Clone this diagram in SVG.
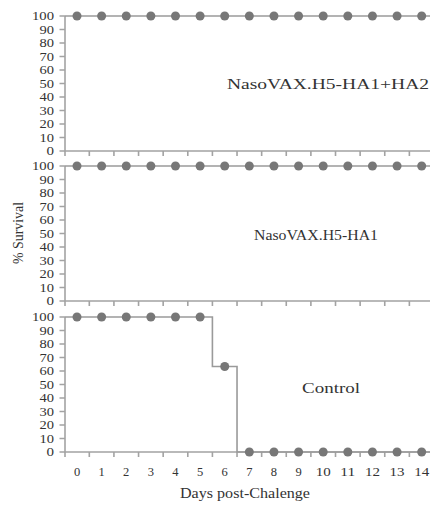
<svg xmlns="http://www.w3.org/2000/svg" width="430" height="507" viewBox="0 0 430 507">
<style>
.ax{stroke:#a3a3a3;stroke-width:1.6;fill:none}
.dl{stroke:#9a9a9a;stroke-width:1.6;fill:none}
.pt{fill:#777}
text{font-family:"Liberation Serif","Times New Roman",serif;fill:#333}
.yt{font-size:12.5px;text-anchor:end}
.xt{font-size:12.5px;text-anchor:middle}
.lb{font-size:15px;text-anchor:middle}
</style>
<defs>
<g id="frame">
<path class="ax" d="M65,0V135H430"/>
<path class="ax" d="M59.5,0H65M59.5,13.5H65M59.5,27H65M59.5,40.5H65M59.5,54H65M59.5,67.5H65M59.5,81H65M59.5,94.5H65M59.5,108H65M59.5,121.5H65M59.5,135H65"/>
<path class="ax" d="M65,135v5M89.31,135v5M113.93,135v5M138.55,135v5M163.17,135v5M187.79,135v5M212.41,135v5M237.03,135v5M261.65,135v5M286.27,135v5M310.89,135v5M335.51,135v5M360.13,135v5M384.75,135v5M409.37,135v5"/>
<text class="yt" x="54" y="4.3" textLength="22" lengthAdjust="spacingAndGlyphs">100</text>
<text class="yt" x="54" y="17.8" textLength="14.5" lengthAdjust="spacingAndGlyphs">90</text>
<text class="yt" x="54" y="31.3" textLength="14.5" lengthAdjust="spacingAndGlyphs">80</text>
<text class="yt" x="54" y="44.8" textLength="14.5" lengthAdjust="spacingAndGlyphs">70</text>
<text class="yt" x="54" y="58.3" textLength="14.5" lengthAdjust="spacingAndGlyphs">60</text>
<text class="yt" x="54" y="71.8" textLength="14.5" lengthAdjust="spacingAndGlyphs">50</text>
<text class="yt" x="54" y="85.3" textLength="14.5" lengthAdjust="spacingAndGlyphs">40</text>
<text class="yt" x="54" y="98.8" textLength="14.5" lengthAdjust="spacingAndGlyphs">30</text>
<text class="yt" x="54" y="112.3" textLength="14.5" lengthAdjust="spacingAndGlyphs">20</text>
<text class="yt" x="54" y="125.8" textLength="14.5" lengthAdjust="spacingAndGlyphs">10</text>
<text class="yt" x="54" y="139.3" textLength="7.5" lengthAdjust="spacingAndGlyphs">0</text>
</g>
<circle id="p" r="4.5" class="pt"/>
</defs>

<g id="panel-ha1-ha2" transform="translate(0,16)">
<use href="#frame"/>
<g id="connectors-1"><path class="dl" d="M65,0H430"/></g>
<g class="pts">
<use href="#p" x="77" y="0"/><use href="#p" x="101.62" y="0"/><use href="#p" x="126.24" y="0"/><use href="#p" x="150.86" y="0"/><use href="#p" x="175.48" y="0"/><use href="#p" x="200.1" y="0"/><use href="#p" x="224.72" y="0"/><use href="#p" x="249.34" y="0"/><use href="#p" x="273.96" y="0"/><use href="#p" x="298.58" y="0"/><use href="#p" x="323.2" y="0"/><use href="#p" x="347.82" y="0"/><use href="#p" x="372.44" y="0"/><use href="#p" x="397.06" y="0"/><use href="#p" x="421.68" y="0"/>
</g>
<text class="lb" x="328" y="73" textLength="202" lengthAdjust="spacingAndGlyphs">NasoVAX.H5-HA1+HA2</text>
</g>

<g id="panel-ha1" transform="translate(0,166)">
<use href="#frame"/>
<g id="connectors-2"><path class="dl" d="M65,0H430"/></g>
<g class="pts">
<use href="#p" x="77" y="0"/><use href="#p" x="101.62" y="0"/><use href="#p" x="126.24" y="0"/><use href="#p" x="150.86" y="0"/><use href="#p" x="175.48" y="0"/><use href="#p" x="200.1" y="0"/><use href="#p" x="224.72" y="0"/><use href="#p" x="249.34" y="0"/><use href="#p" x="273.96" y="0"/><use href="#p" x="298.58" y="0"/><use href="#p" x="323.2" y="0"/><use href="#p" x="347.82" y="0"/><use href="#p" x="372.44" y="0"/><use href="#p" x="397.06" y="0"/><use href="#p" x="421.68" y="0"/>
</g>
<text class="lb" x="316" y="74" textLength="124" lengthAdjust="spacingAndGlyphs">NasoVAX.H5-HA1</text>
</g>

<g id="panel-control" transform="translate(0,317)">
<use href="#frame"/>
<g id="connectors-3"><path class="dl" d="M65,0H212.41V49.5H237.03V135H430"/></g>
<g class="pts">
<use href="#p" x="77" y="0"/><use href="#p" x="101.62" y="0"/><use href="#p" x="126.24" y="0"/><use href="#p" x="150.86" y="0"/><use href="#p" x="175.48" y="0"/><use href="#p" x="200.1" y="0"/><use href="#p" x="224.72" y="49.5"/><use href="#p" x="249.34" y="135"/><use href="#p" x="273.96" y="135"/><use href="#p" x="298.58" y="135"/><use href="#p" x="323.2" y="135"/><use href="#p" x="347.82" y="135"/><use href="#p" x="372.44" y="135"/><use href="#p" x="397.06" y="135"/><use href="#p" x="421.68" y="135"/>
</g>
<text class="lb" x="331" y="76" textLength="58" lengthAdjust="spacingAndGlyphs">Control</text>
</g>

<g id="x-axis-labels">
<text class="xt" x="77" y="476">0</text>
<text class="xt" x="101.62" y="476">1</text>
<text class="xt" x="126.24" y="476">2</text>
<text class="xt" x="150.86" y="476">3</text>
<text class="xt" x="175.48" y="476">4</text>
<text class="xt" x="200.1" y="476">5</text>
<text class="xt" x="224.72" y="476">6</text>
<text class="xt" x="249.34" y="476">7</text>
<text class="xt" x="273.96" y="476">8</text>
<text class="xt" x="298.58" y="476">9</text>
<text class="xt" x="323.2" y="476" textLength="15" lengthAdjust="spacingAndGlyphs">10</text>
<text class="xt" x="347.82" y="476" textLength="15" lengthAdjust="spacingAndGlyphs">11</text>
<text class="xt" x="372.44" y="476" textLength="15" lengthAdjust="spacingAndGlyphs">12</text>
<text class="xt" x="397.06" y="476" textLength="15" lengthAdjust="spacingAndGlyphs">13</text>
<text class="xt" x="421.68" y="476" textLength="15" lengthAdjust="spacingAndGlyphs">14</text>
<text class="lb" x="245" y="498" textLength="130" lengthAdjust="spacingAndGlyphs">Days post-Chalenge</text>
<text class="lb" x="0" y="0" transform="translate(23,233) rotate(-90)" textLength="62" lengthAdjust="spacingAndGlyphs">% Survival</text>
</g>
</svg>
